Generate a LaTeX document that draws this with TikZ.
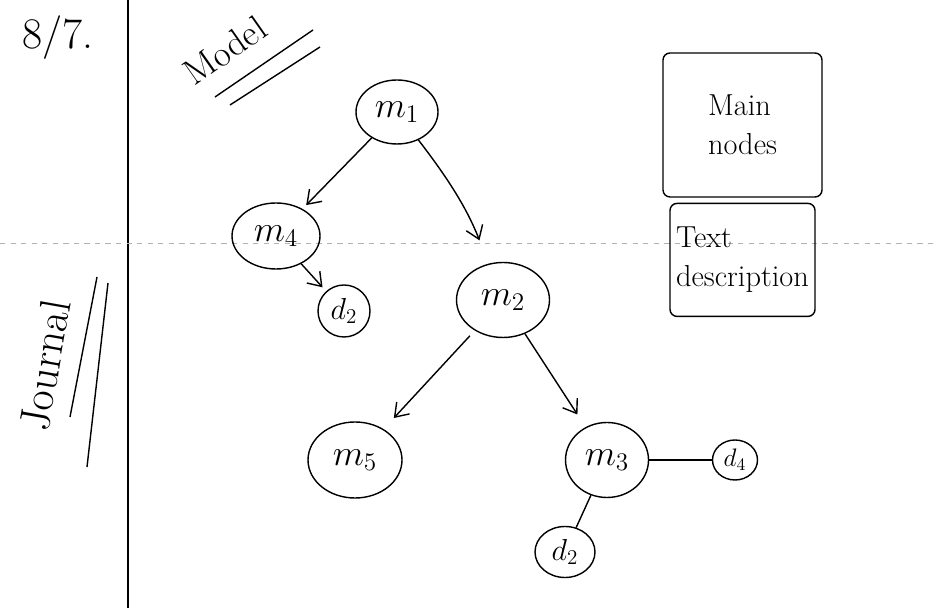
\documentclass[tikz,border=0pt]{standalone}
\usepackage{amsmath}
\usepackage{tikz}
\usetikzlibrary{positioning,shapes.geometric,arrows.meta}

\tikzset{
  sketch/.style={draw, ellipse, thick, inner sep=0pt, font=\huge},
  notebox/.style={draw, thick, rounded corners=4pt, align=left, font=\LARGE},
  tree/.style={thick, -{Straight Barb[length=2.5mm,width=3.5mm]}, shorten >=3pt},
  plain/.style={thick}
}

\begin{document}
\begin{tikzpicture}
      \useasboundingbox (0,0) rectangle (18.74,12.16);
      % page rules
      \draw[thick] (2.56,0) -- (2.56,12.16);
      \draw[gray!60, dashed, thin] (0,7.3) -- (18.74,7.3);

      % margin notes
      \node[font=\Huge] (Date) at (1.16,11.4) {8/7.};
      \node[rotate=35, font=\huge] (Model) at (4.5,11.15) {Model};
      \draw[thick] (4.3,10.22) -- (6.26,11.56);
      \draw[thick] (4.6,10.06) -- (6.4,11.22);
      \node[rotate=80, font=\Huge] (Journal) at (0.9,4.86) {Journal};
      \draw[thick] (1.94,6.62) -- (1.4,3.82);
      \draw[thick] (2.16,6.5) -- (1.74,2.82);

      % tree
      \node[sketch, minimum width=1.64cm, minimum height=1.28cm] (M1) at (7.94,9.92) {\(m_1\)};
      \node[sketch, on grid, below left=2.48cm and 2.42cm of M1, minimum width=1.76cm, minimum height=1.32cm] (M4) {\(m_4\)};
      \node[sketch, on grid, below right=3.76cm and 2.12cm of M1, minimum width=1.86cm, minimum height=1.5cm] (M2) {\(m_2\)};
      \node[sketch, on grid, below right=1.5cm and 1.36cm of M4, minimum width=1.04cm, minimum height=1.04cm, font=\LARGE] (D2Left) {\(d_2\)};
      \node[sketch, on grid, below left=3.2cm and 2.96cm of M2, minimum width=1.88cm, minimum height=1.52cm] (M5) {\(m_5\)};
      \node[sketch, on grid, below right=3.2cm and 2.08cm of M2, minimum width=1.66cm, minimum height=1.5cm] (M3) {\(m_3\)};
      \node[sketch, on grid, right=2.56cm of M3, minimum width=0.9cm, minimum height=0.8cm, font=\Large] (D4) {\(d_4\)};
      \node[sketch, on grid, below left=1.84cm and 0.84cm of M3, minimum width=1.2cm, minimum height=1.02cm, font=\LARGE] (D2Right) {\(d_2\)};

      \draw[tree] (M1) to (M4);
      \draw[tree, shorten >=0.5cm] (M1) to[bend left=8] (M2);
      \draw[tree] (M4) to (D2Left);
      \draw[tree, shorten <=4pt, shorten >=0.3cm] (M2) to (M5);
      \draw[tree, shorten >=0.3cm] (M2) to (M3);
      \draw[plain] (M3) to (D4);
      \draw[plain] (M3) to (D2Right);

      % legend
      \node[notebox, minimum width=3.18cm, minimum height=2.88cm] (MainBox) at (14.85,9.66) {Main\\nodes};
      \node[notebox, below=0.1cm of MainBox, minimum width=2.9cm, minimum height=2.26cm] (TextBox) {Text\\description};
\end{tikzpicture}
\end{document}
